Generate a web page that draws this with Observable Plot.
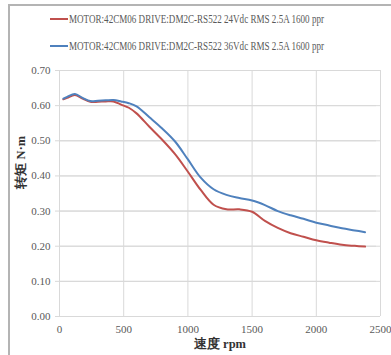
<!DOCTYPE html>
<html><head><meta charset="utf-8">
<script src="https://cdn.jsdelivr.net/npm/d3@7"></script>
<script src="https://cdn.jsdelivr.net/npm/@observablehq/plot@0.6"></script>
<style>
body{margin:0;background:#fff;}
#wrap{position:relative;width:391px;height:355px;overflow:hidden;font-family:"Liberation Serif","Times New Roman","DejaVu Serif",serif;}
#frame{position:absolute;left:8px;top:4px;width:390px;height:360px;border-left:2px solid #b4b4b4;border-top:2px solid #b4b4b4;}
.leg{position:absolute;left:50px;font-size:11.5px;color:#595959;white-space:nowrap;line-height:14px;}
.sw{display:inline-block;width:18px;height:2px;vertical-align:middle;margin-right:1px;position:relative;top:-1px;}
.lt{display:inline-block;transform-origin:0 50%;}
#chart{position:absolute;left:0;top:60px;}
#chart svg text{font-family:"Liberation Serif","Times New Roman","DejaVu Serif",serif;}
</style></head>
<body>
<div id="wrap">
<div id="frame"></div>
<div class="leg" id="leg0" style="top:12px"></div>
<div class="leg" id="leg1" style="top:39px"></div>
<div id="chart"></div>
</div>
<script>
const seriesNames = [
  "MOTOR:42CM06 DRIVE:DM2C-RS522 24Vdc RMS 2.5A 1600 ppr",
  "MOTOR:42CM06 DRIVE:DM2C-RS522 36Vdc RMS 2.5A 1600 ppr"
];
const colors = ["#c0504d", "#4f81bd"];
const rpm = [30,60,120,180,240,300,360,420,480,540,600,700,800,900,1000,1100,1200,1300,1400,1500,1600,1700,1800,1900,2000,2100,2200,2300,2380];
const torque24 = [0.618,0.622,0.630,0.620,0.611,0.611,0.612,0.612,0.603,0.594,0.578,0.540,0.503,0.462,0.412,0.360,0.318,0.305,0.305,0.298,0.272,0.252,0.237,0.227,0.217,0.210,0.204,0.201,0.199];
const torque36 = [0.620,0.625,0.633,0.622,0.613,0.614,0.615,0.616,0.612,0.607,0.598,0.567,0.535,0.498,0.447,0.395,0.362,0.346,0.337,0.330,0.317,0.300,0.288,0.278,0.267,0.259,0.251,0.245,0.240];
const xTicks = [0,500,1000,1500,2000,2500];
const yTicks = [0,0.1,0.2,0.3,0.4,0.5,0.6,0.7];
const xLabel = "速度 rpm";
const yLabel = "转矩 N·m";

const data = [];
rpm.forEach((r,i)=>{
  data.push({rpm:r, t:torque24[i], s:seriesNames[0]});
  data.push({rpm:r, t:torque36[i], s:seriesNames[1]});
});

seriesNames.forEach((n,i)=>{
  const el = document.getElementById("leg"+i);
  el.innerHTML = `<span class="sw" style="background:${colors[i]}"></span>`;
  const t = document.createElement("span");
  t.className = "lt";
  t.textContent = n;
  el.appendChild(t);
  const w = t.getBoundingClientRect().width;
  if (w > 255) t.style.transform = `scaleX(${255 / w})`;
});

const chart = Plot.plot({
  width: 391,
  height: 295,
  marginLeft: 59,
  marginRight: 11,
  marginTop: 10,
  marginBottom: 39,
  style: {fontFamily: "'Liberation Serif', 'Times New Roman', serif", fontSize: "11px", color: "#595959", background: "transparent", overflow: "visible"},
  x: {domain: [0,2500], ticks: xTicks, label: null},
  y: {domain: [0,0.7], ticks: yTicks, label: null, tickFormat: d3.format(".2f")},
  color: {domain: seriesNames, range: colors},
  marks: [
    Plot.gridX(xTicks, {stroke: "#d9d9d9", strokeOpacity: 1}),
    Plot.gridY(yTicks, {stroke: "#d9d9d9", strokeOpacity: 1}),
    Plot.tickY(yTicks, {y: d => d, dx: -4, stroke: "#d9d9d9", strokeOpacity: 1}),
    Plot.axisX({ticks: xTicks, tickSize: 0, tickPadding: 9, label: null, tickFormat: d3.format("d")}),
    Plot.axisY({ticks: yTicks, tickSize: 0, tickPadding: 9, label: null, tickFormat: d3.format(".2f")}),
    Plot.line(data, {x: "rpm", y: "t", stroke: "s", strokeWidth: 2, curve: "catmull-rom"}),
    Plot.text([xLabel], {frameAnchor: "bottom", dy: 31, fontWeight: "bold", fontSize: 12.5, fill: "#333"}),
    Plot.text([yLabel], {frameAnchor: "left", rotate: -90, dx: -39, dy: -5, fontWeight: "bold", fontSize: 12.5, fill: "#333"})
  ]
});
document.getElementById("chart").appendChild(chart);
</script>
</body></html>
